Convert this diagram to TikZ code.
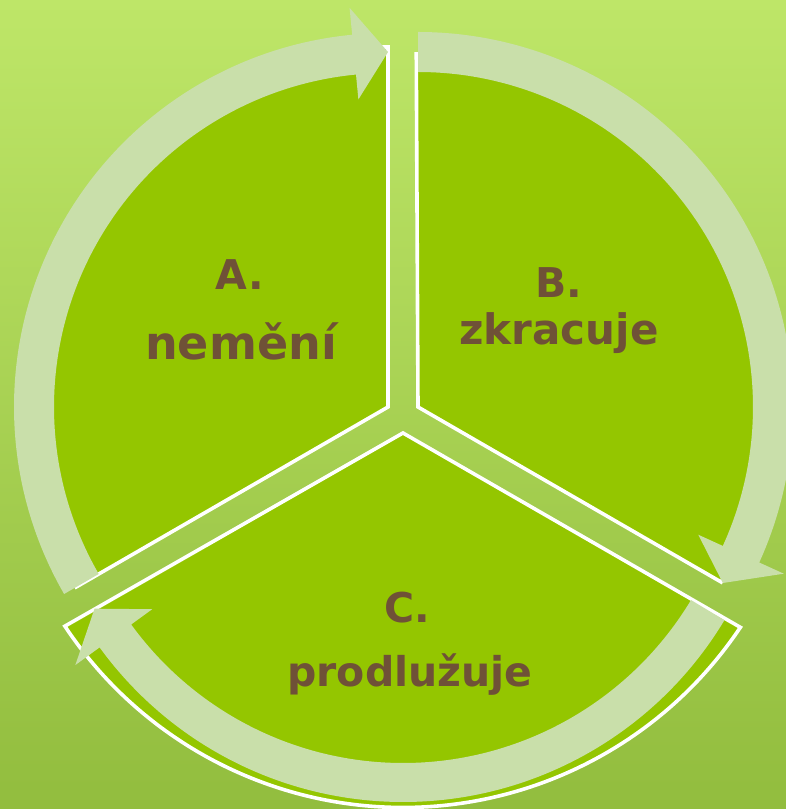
\documentclass[tikz,border=0pt]{standalone}
\usepackage{fontspec}
\setmainfont{DejaVu Sans}
\usetikzlibrary{calc}
\definecolor{bgtop}{RGB}{190,230,104}
\definecolor{bgbot}{RGB}{146,189,62}
\definecolor{seg}{RGB}{148,198,0}
\definecolor{arr}{RGB}{201,223,170}
\definecolor{txt}{RGB}{111,81,55}
\tikzset{
  segment/.style={fill=seg, draw=white, line width=3.6pt, line join=miter},
  cyclearrow/.style={fill=arr},
  lbl/.style={text=txt, anchor=base, inner sep=0pt},
}
\begin{document}
\begin{tikzpicture}[x=1pt,y=1pt]
\useasboundingbox (0,0) rectangle (786,809);
\shade[top color=bgtop, bottom color=bgbot] (0,0) rectangle (786,809);

\coordinate (cA) at (388,402);
\coordinate (cB) at (418,402);
\coordinate (cC) at (403,376);
\coordinate (cCarc) at (403,407.5);
\coordinate (cCarrow) at (403,382);

% segments
\draw[segment] (cA) -- ++(90:360) arc[start angle=90, end angle=210, radius=360] -- cycle;
\draw[segment] (cB) -- ++(-30:350) arc[start angle=-30, end angle=90, radius=352] -- cycle;
\draw[segment] (cC) -- ($(cCarc)+(-33.8:406)$) arc[start angle=-33.8, end angle=-146.4, radius=406] -- cycle;

% arrows
\begin{scope}[shift={(cA)}]
  \fill[cyclearrow] (210:374) arc[start angle=210, end angle=95.5, radius=374]
    -- (95.5:401) -- (90:355) -- (95.5:309) -- (95.5:334)
    arc[start angle=95.5, end angle=210, radius=334] -- cycle;
\end{scope}
\begin{scope}[shift={(cB)}]
  \fill[cyclearrow] (90:375) arc[start angle=90, end angle=-24.5, radius=375]
    -- (-24.5:402) -- (-30:352) -- (-24.5:308) -- (-24.5:335)
    arc[start angle=-24.5, end angle=90, radius=335] -- cycle;
\end{scope}
\begin{scope}[shift={(cCarrow)}]
  \fill[cyclearrow] (-31:375) arc[start angle=-31, end angle=-144, radius=375]
    -- (-144:405) -- (-149.5:358) -- (-144:310) -- (-144:336)
    arc[start angle=-144, end angle=-31, radius=336] -- cycle;
\end{scope}

% labels
\node[lbl, font=\bfseries\fontsize{41}{41}\selectfont] (tA1) at (240,519) {A.};
\node[lbl, font=\bfseries\fontsize{46}{46}\selectfont] (tA2) at (241,449) {nemění};
\node[lbl, font=\bfseries\fontsize{41}{41}\selectfont] (tB1) at (559,511) {B.};
\node[lbl, font=\bfseries\fontsize{42}{42}\selectfont] (tB2) at (559,464) {zkracuje};
\node[lbl, font=\bfseries\fontsize{41}{41}\selectfont] (tC1) at (407,186) {C.};
\node[lbl, font=\bfseries\fontsize{41}{41}\selectfont] (tC2) at (410,122) {prodlužuje};
\end{tikzpicture}
\end{document}
